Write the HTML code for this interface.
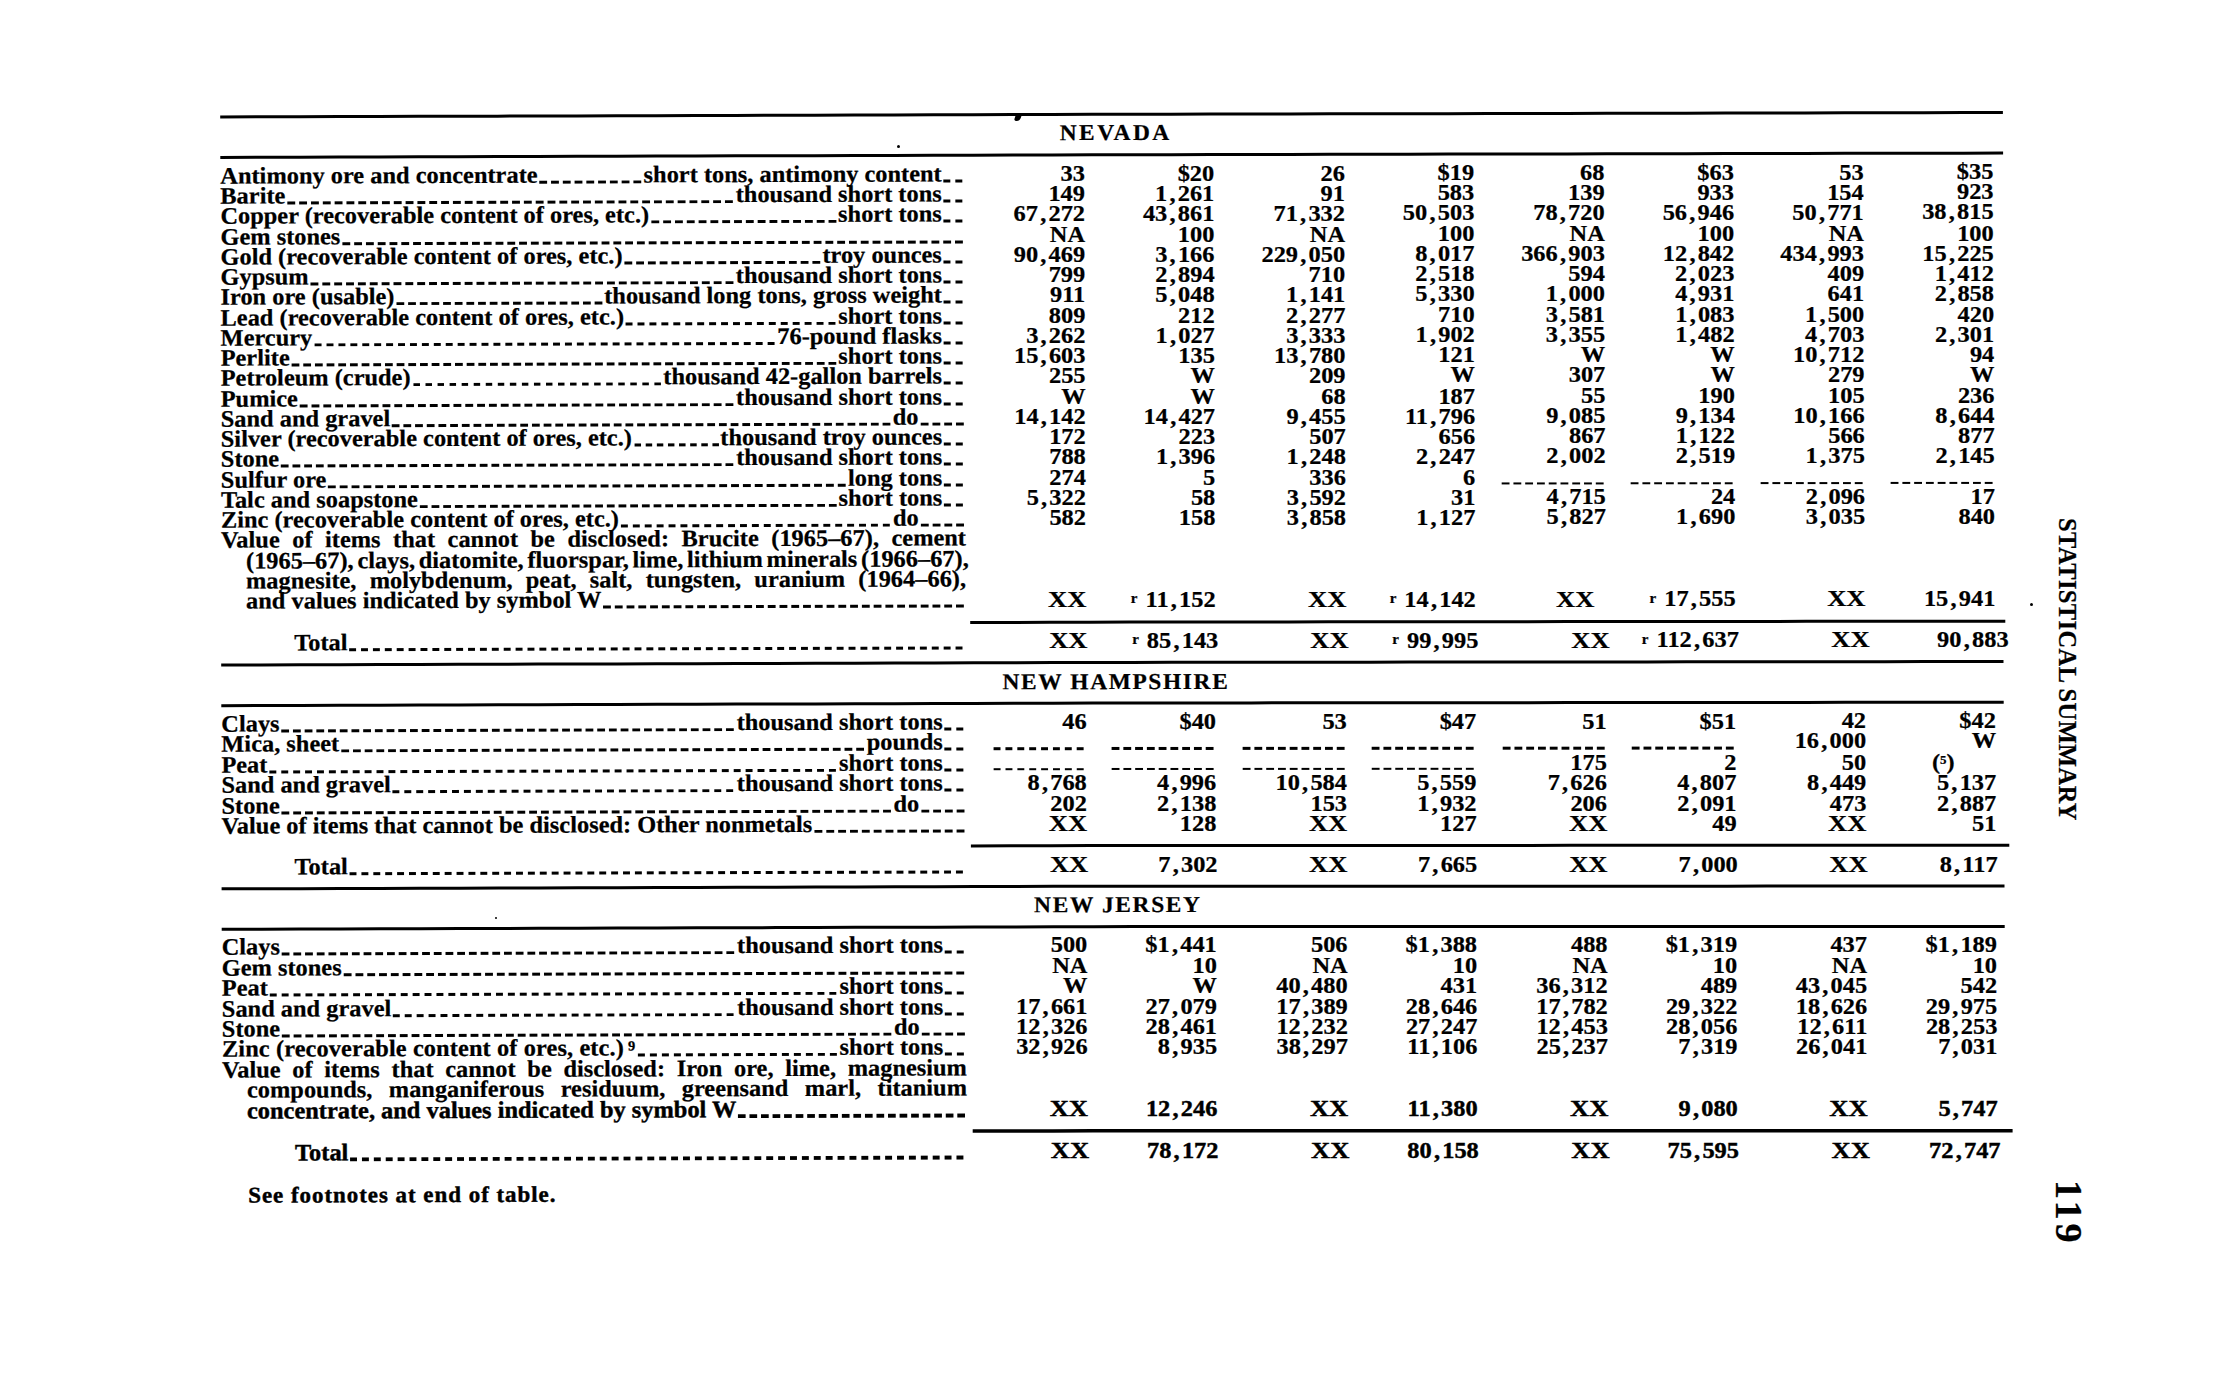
<!DOCTYPE html>
<html><head><meta charset="utf-8"><title>Statistical Summary</title>
<style>
html,body{margin:0;padding:0;background:#fff;}
body{width:2219px;height:1380px;overflow:hidden;position:relative;}
#pg{position:absolute;left:0;top:0;width:2219px;height:1380px;color:#000;
 font-family:"Liberation Serif",serif;font-weight:bold;font-size:24.4px;-webkit-text-stroke:0.25px #000;}
#rules{position:absolute;left:0;top:0;}
.r{position:absolute;background:#000;}
.t,.h,.n,.fn,.row{position:absolute;height:0;line-height:0;white-space:nowrap;transform-origin:0 8.0px;}
.h{letter-spacing:1.9px;font-size:23.4px;}
.n{width:200px;text-align:right;}
.c{margin:0 2.2px;}
.xx{display:inline-block;transform:scaleX(1.087);transform-origin:100% 0;}
.fn{font-size:23px;letter-spacing:0.95px;}
.row{display:flex;align-items:baseline;}
.lab{flex:0 0 auto;}
.ld{flex:1 1 auto;align-self:stretch;position:relative;}
.ld::after{content:"";position:absolute;left:0;right:0;top:5.8px;height:2.8px;
 background:linear-gradient(to right, transparent 0, transparent 2.4px, #000 2.4px, #000 9.4px, transparent 9.4px);background-size:11.8px 100%;background-repeat:round no-repeat;}
.heavy .ld::after{height:4px;top:4.5px;}
.heavy .lab,.hv,.fn{-webkit-text-stroke:0.45px #000;}
.cd{position:absolute;height:2.6px;background:linear-gradient(to right, transparent 0, transparent 2.4px, #000 2.4px, #000 9.4px, transparent 9.4px);background-size:11.8px 100%;background-repeat:round no-repeat;}
.sup{font-size:15px;position:relative;top:-4.5px;margin-right:8px;letter-spacing:0;}
.sup5{font-size:13px;position:relative;top:-6px;}
.sup9{font-size:14.5px;position:relative;top:-5.5px;margin-left:4px;margin-right:1px;}
.vt{position:absolute;white-space:nowrap;line-height:0;height:0;transform-origin:0 0;}
</style></head>
<body><div id="pg">
<svg id="rules" width="2219" height="1380" viewBox="0 0 2219 1380" fill="none" stroke="#000" stroke-linecap="butt" stroke-linejoin="round"><path d="M220.2 116.97 L259.8 116.85 L299.4 116.73 L339.0 116.61 L378.7 116.49 L418.3 116.37 L457.9 116.25 L497.5 116.13 L537.1 116.02 L576.7 115.90 L616.4 115.78 L656.0 115.66 L695.6 115.54 L735.2 115.42 L774.8 115.30 L814.4 115.18 L854.1 115.06 L893.7 114.95 L933.3 114.83 L972.9 114.71 L1012.5 114.59 L1052.1 114.47 L1091.8 114.35 L1131.4 114.25 L1171.0 114.18 L1210.6 114.10 L1250.2 114.02 L1289.8 113.94 L1329.5 113.86 L1369.1 113.79 L1408.7 113.71 L1448.3 113.63 L1487.9 113.55 L1527.5 113.47 L1567.2 113.39 L1606.8 113.32 L1646.4 113.24 L1686.0 113.16 L1725.6 113.08 L1765.2 113.00 L1804.9 112.92 L1844.5 112.85 L1884.1 112.77 L1923.7 112.69 L1963.3 112.61 L2002.9 112.53" stroke-width="3"/><path d="M220.3 157.42 L259.9 157.30 L299.5 157.18 L339.1 157.06 L378.7 156.94 L418.4 156.82 L458.0 156.70 L497.6 156.58 L537.2 156.47 L576.8 156.35 L616.5 156.23 L656.1 156.11 L695.7 155.99 L735.3 155.87 L774.9 155.75 L814.6 155.63 L854.2 155.51 L893.8 155.40 L933.4 155.28 L973.0 155.16 L1012.7 155.04 L1052.3 154.92 L1091.9 154.80 L1131.5 154.71 L1171.1 154.63 L1210.7 154.56 L1250.4 154.48 L1290.0 154.41 L1329.6 154.33 L1369.2 154.25 L1408.8 154.18 L1448.5 154.10 L1488.1 154.03 L1527.7 153.95 L1567.3 153.88 L1606.9 153.80 L1646.6 153.73 L1686.2 153.65 L1725.8 153.58 L1765.4 153.50 L1805.0 153.43 L1844.7 153.35 L1884.3 153.28 L1923.9 153.20 L1963.5 153.13 L2003.1 153.05" stroke-width="3"/><path d="M970.2 622.52 L1010.0 622.40 L1049.8 622.28 L1089.6 622.16 L1129.4 622.08 L1169.2 622.04 L1209.1 622.00 L1248.9 621.96 L1288.7 621.91 L1328.5 621.87 L1368.3 621.83 L1408.1 621.79 L1447.9 621.75 L1487.7 621.71 L1527.5 621.66 L1567.4 621.62 L1607.2 621.58 L1647.0 621.54 L1686.8 621.50 L1726.6 621.46 L1766.4 621.42 L1806.2 621.37 L1846.0 621.33 L1885.9 621.29 L1925.7 621.25 L1965.5 621.21 L2005.3 621.17" stroke-width="3"/><path d="M221.2 665.07 L260.8 664.95 L300.4 664.83 L340.0 664.71 L379.6 664.59 L419.2 664.47 L458.8 664.35 L498.4 664.24 L538.0 664.12 L577.6 664.00 L617.2 663.88 L656.9 663.76 L696.5 663.64 L736.1 663.52 L775.7 663.40 L815.3 663.28 L854.9 663.17 L894.5 663.05 L934.1 662.93 L973.7 662.81 L1013.3 662.69 L1052.9 662.57 L1092.5 662.45 L1132.1 662.38 L1171.7 662.34 L1211.3 662.30 L1251.0 662.26 L1290.6 662.23 L1330.2 662.19 L1369.8 662.15 L1409.4 662.11 L1449.0 662.07 L1488.6 662.03 L1528.2 662.00 L1567.8 661.96 L1607.4 661.92 L1647.0 661.88 L1686.6 661.84 L1726.2 661.80 L1765.8 661.76 L1805.4 661.73 L1845.0 661.69 L1884.7 661.65 L1924.3 661.61 L1963.9 661.57 L2003.5 661.53" stroke-width="3"/><path d="M221.3 705.67 L260.9 705.55 L300.5 705.43 L340.1 705.31 L379.7 705.19 L419.3 705.07 L458.9 704.95 L498.5 704.84 L538.1 704.72 L577.7 704.60 L617.3 704.48 L657.0 704.36 L696.6 704.24 L736.2 704.12 L775.8 704.00 L815.4 703.88 L855.0 703.77 L894.6 703.65 L934.2 703.53 L973.8 703.41 L1013.4 703.29 L1053.0 703.17 L1092.7 703.05 L1132.3 702.98 L1171.9 702.95 L1211.5 702.91 L1251.1 702.88 L1290.7 702.84 L1330.3 702.80 L1369.9 702.77 L1409.5 702.73 L1449.1 702.70 L1488.7 702.66 L1528.4 702.63 L1568.0 702.59 L1607.6 702.56 L1647.2 702.52 L1686.8 702.49 L1726.4 702.45 L1766.0 702.42 L1805.6 702.38 L1845.2 702.35 L1884.8 702.31 L1924.4 702.28 L1964.1 702.24 L2003.7 702.21" stroke-width="3"/><path d="M970.9 845.92 L1010.8 845.80 L1050.7 845.68 L1090.7 845.56 L1130.6 845.49 L1170.6 845.48 L1210.5 845.47 L1250.4 845.46 L1290.4 845.45 L1330.3 845.44 L1370.3 845.43 L1410.2 845.41 L1450.1 845.40 L1490.1 845.39 L1530.0 845.38 L1570.0 845.37 L1609.9 845.36 L1649.8 845.35 L1689.8 845.33 L1729.7 845.32 L1769.7 845.31 L1809.6 845.30 L1849.6 845.29 L1889.5 845.28 L1929.4 845.26 L1969.4 845.25 L2009.3 845.24" stroke-width="3"/><path d="M221.6 888.87 L261.2 888.75 L300.8 888.63 L340.4 888.51 L380.1 888.39 L419.7 888.27 L459.3 888.15 L498.9 888.04 L538.6 887.92 L578.2 887.80 L617.8 887.68 L657.4 887.56 L697.0 887.44 L736.7 887.32 L776.3 887.20 L815.9 887.09 L855.5 886.97 L895.1 886.85 L934.8 886.73 L974.4 886.61 L1014.0 886.49 L1053.6 886.37 L1093.2 886.25 L1132.9 886.20 L1172.5 886.19 L1212.1 886.19 L1251.7 886.18 L1291.3 886.18 L1331.0 886.17 L1370.6 886.17 L1410.2 886.17 L1449.8 886.16 L1489.4 886.16 L1529.1 886.15 L1568.7 886.15 L1608.3 886.14 L1647.9 886.14 L1687.5 886.13 L1727.2 886.13 L1766.8 886.12 L1806.4 886.12 L1846.0 886.11 L1885.6 886.11 L1925.3 886.11 L1964.9 886.10 L2004.5 886.10" stroke-width="3"/><path d="M221.7 929.27 L261.3 929.15 L300.9 929.03 L340.5 928.91 L380.2 928.79 L419.8 928.67 L459.4 928.55 L499.0 928.44 L538.6 928.32 L578.3 928.20 L617.9 928.08 L657.5 927.96 L697.1 927.84 L736.8 927.72 L776.4 927.60 L816.0 927.49 L855.6 927.37 L895.2 927.25 L934.9 927.13 L974.5 927.01 L1014.1 926.89 L1053.7 926.77 L1093.4 926.65 L1133.0 926.60 L1172.6 926.59 L1212.2 926.59 L1251.9 926.59 L1291.5 926.58 L1331.1 926.58 L1370.7 926.58 L1410.3 926.57 L1450.0 926.57 L1489.6 926.57 L1529.2 926.56 L1568.8 926.56 L1608.5 926.55 L1648.1 926.55 L1687.7 926.55 L1727.3 926.54 L1767.0 926.54 L1806.6 926.54 L1846.2 926.53 L1885.8 926.53 L1925.4 926.53 L1965.1 926.52 L2004.7 926.52" stroke-width="3"/><path d="M972.7 1131.12 L1012.7 1131.00 L1052.7 1130.88 L1092.7 1130.76 L1132.7 1130.70 L1172.7 1130.70 L1212.7 1130.70 L1252.7 1130.69 L1292.7 1130.69 L1332.7 1130.69 L1372.7 1130.69 L1412.7 1130.69 L1452.7 1130.69 L1492.7 1130.68 L1532.7 1130.68 L1572.7 1130.68 L1612.7 1130.68 L1652.7 1130.68 L1692.7 1130.68 L1732.7 1130.67 L1772.7 1130.67 L1812.7 1130.67 L1852.6 1130.67 L1892.6 1130.67 L1932.6 1130.67 L1972.6 1130.66 L2012.6 1130.66" stroke-width="3.5"/></svg>
<div class="h" style="left:1061.0px;top:132.20px;letter-spacing:2.5px;transform:translate(-1.31px,0.15px) rotate(-0.1383deg) scaleY(0.97);">NEVADA</div>
<div class="row" style="left:221.0px;top:172.92px;width:745.0px;transform:translate(-0.68px,2.67px) rotate(-0.1719deg) scaleY(0.97);"><span class="lab" style="padding-left:0px;letter-spacing:0px">Antimony ore and concentrate</span><span class="ld"></span><span class="lab">short tons, antimony content</span><span class="ld" style="flex:0 0 23.6px"></span></div>
<div class="n" style="left:886.1px;top:172.92px;transform:translate(-1.18px,0.16px) scaleY(0.94)">33</div>
<div class="n" style="left:1015.5px;top:172.92px;transform:translate(-1.26px,-0.14px) scaleY(0.94)">$20</div>
<div class="n" style="left:1146.2px;top:172.92px;transform:translate(-1.34px,-0.38px) scaleY(0.94)">26</div>
<div class="n" style="left:1275.6px;top:172.92px;transform:translate(-1.42px,-0.62px) scaleY(0.94)">$19</div>
<div class="n" style="left:1406.0px;top:172.92px;transform:translate(-1.49px,-0.86px) scaleY(0.94)">68</div>
<div class="n" style="left:1535.5px;top:172.92px;transform:translate(-1.57px,-1.10px) scaleY(0.94)">$63</div>
<div class="n" style="left:1665.3px;top:172.92px;transform:translate(-1.65px,-1.34px) scaleY(0.94)">53</div>
<div class="n" style="left:1795.2px;top:172.92px;transform:translate(-1.73px,-1.58px) scaleY(0.94)">$35</div>
<div class="row" style="left:221.0px;top:193.17px;width:745.0px;transform:translate(-0.65px,2.67px) rotate(-0.1719deg) scaleY(0.97);"><span class="lab" style="padding-left:0px;letter-spacing:0px">Barite</span><span class="ld"></span><span class="lab">thousand short tons</span><span class="ld" style="flex:0 0 23.6px"></span></div>
<div class="n" style="left:886.1px;top:193.17px;transform:translate(-1.12px,0.16px) scaleY(0.94)">149</div>
<div class="n" style="left:1015.5px;top:193.17px;transform:translate(-1.19px,-0.14px) scaleY(0.94)">1<span class="c">,</span>261</div>
<div class="n" style="left:1146.2px;top:193.17px;transform:translate(-1.27px,-0.37px) scaleY(0.94)">91</div>
<div class="n" style="left:1275.6px;top:193.17px;transform:translate(-1.34px,-0.61px) scaleY(0.94)">583</div>
<div class="n" style="left:1406.0px;top:193.17px;transform:translate(-1.41px,-0.85px) scaleY(0.94)">139</div>
<div class="n" style="left:1535.5px;top:193.17px;transform:translate(-1.49px,-1.08px) scaleY(0.94)">933</div>
<div class="n" style="left:1665.3px;top:193.17px;transform:translate(-1.56px,-1.32px) scaleY(0.94)">154</div>
<div class="n" style="left:1795.2px;top:193.17px;transform:translate(-1.63px,-1.55px) scaleY(0.94)">923</div>
<div class="row" style="left:221.0px;top:213.42px;width:745.0px;transform:translate(-0.61px,2.67px) rotate(-0.1719deg) scaleY(0.97);"><span class="lab" style="padding-left:0px;letter-spacing:0px">Copper (recoverable content of ores, etc.)</span><span class="ld"></span><span class="lab">short tons</span><span class="ld" style="flex:0 0 23.6px"></span></div>
<div class="n" style="left:886.1px;top:213.42px;transform:translate(-1.06px,0.16px) scaleY(0.94)">67<span class="c">,</span>272</div>
<div class="n" style="left:1015.5px;top:213.42px;transform:translate(-1.12px,-0.13px) scaleY(0.94)">43<span class="c">,</span>861</div>
<div class="n" style="left:1146.2px;top:213.42px;transform:translate(-1.19px,-0.37px) scaleY(0.94)">71<span class="c">,</span>332</div>
<div class="n" style="left:1275.6px;top:213.42px;transform:translate(-1.26px,-0.60px) scaleY(0.94)">50<span class="c">,</span>503</div>
<div class="n" style="left:1406.0px;top:213.42px;transform:translate(-1.33px,-0.83px) scaleY(0.94)">78<span class="c">,</span>720</div>
<div class="n" style="left:1535.5px;top:213.42px;transform:translate(-1.40px,-1.06px) scaleY(0.94)">56<span class="c">,</span>946</div>
<div class="n" style="left:1665.3px;top:213.42px;transform:translate(-1.47px,-1.29px) scaleY(0.94)">50<span class="c">,</span>771</div>
<div class="n" style="left:1795.2px;top:213.42px;transform:translate(-1.54px,-1.52px) scaleY(0.94)">38<span class="c">,</span>815</div>
<div class="row" style="left:221.0px;top:233.67px;width:745.0px;transform:translate(-0.57px,2.67px) rotate(-0.1719deg) scaleY(0.97);"><span class="lab" style="padding-left:0px">Gem stones</span><span class="ld"></span></div>
<div class="n" style="left:886.1px;top:233.67px;transform:translate(-0.99px,0.16px) scaleY(0.97)">NA</div>
<div class="n" style="left:1015.5px;top:233.67px;transform:translate(-1.06px,-0.13px) scaleY(0.94)">100</div>
<div class="n" style="left:1146.2px;top:233.67px;transform:translate(-1.12px,-0.36px) scaleY(0.97)">NA</div>
<div class="n" style="left:1275.6px;top:233.67px;transform:translate(-1.19px,-0.58px) scaleY(0.94)">100</div>
<div class="n" style="left:1406.0px;top:233.67px;transform:translate(-1.25px,-0.81px) scaleY(0.97)">NA</div>
<div class="n" style="left:1535.5px;top:233.67px;transform:translate(-1.32px,-1.04px) scaleY(0.94)">100</div>
<div class="n" style="left:1665.3px;top:233.67px;transform:translate(-1.38px,-1.26px) scaleY(0.97)">NA</div>
<div class="n" style="left:1795.2px;top:233.67px;transform:translate(-1.45px,-1.49px) scaleY(0.94)">100</div>
<div class="row" style="left:221.0px;top:253.92px;width:745.0px;transform:translate(-0.54px,2.67px) rotate(-0.1719deg) scaleY(0.97);"><span class="lab" style="padding-left:0px;letter-spacing:0px">Gold (recoverable content of ores, etc.)</span><span class="ld"></span><span class="lab">troy ounces</span><span class="ld" style="flex:0 0 23.6px"></span></div>
<div class="n" style="left:886.1px;top:253.92px;transform:translate(-0.93px,0.16px) scaleY(0.94)">90<span class="c">,</span>469</div>
<div class="n" style="left:1015.5px;top:253.92px;transform:translate(-0.99px,-0.13px) scaleY(0.94)">3<span class="c">,</span>166</div>
<div class="n" style="left:1146.2px;top:253.92px;transform:translate(-1.05px,-0.35px) scaleY(0.94)">229<span class="c">,</span>050</div>
<div class="n" style="left:1275.6px;top:253.92px;transform:translate(-1.11px,-0.57px) scaleY(0.94)">8<span class="c">,</span>017</div>
<div class="n" style="left:1406.0px;top:253.92px;transform:translate(-1.17px,-0.79px) scaleY(0.94)">366<span class="c">,</span>903</div>
<div class="n" style="left:1535.5px;top:253.92px;transform:translate(-1.23px,-1.01px) scaleY(0.94)">12<span class="c">,</span>842</div>
<div class="n" style="left:1665.3px;top:253.92px;transform:translate(-1.30px,-1.24px) scaleY(0.94)">434<span class="c">,</span>993</div>
<div class="n" style="left:1795.2px;top:253.92px;transform:translate(-1.36px,-1.46px) scaleY(0.94)">15<span class="c">,</span>225</div>
<div class="row" style="left:221.0px;top:274.17px;width:745.0px;transform:translate(-0.50px,2.67px) rotate(-0.1719deg) scaleY(0.97);"><span class="lab" style="padding-left:0px;letter-spacing:0px">Gypsum</span><span class="ld"></span><span class="lab">thousand short tons</span><span class="ld" style="flex:0 0 23.6px"></span></div>
<div class="n" style="left:886.1px;top:274.17px;transform:translate(-0.87px,0.16px) scaleY(0.94)">799</div>
<div class="n" style="left:1015.5px;top:274.17px;transform:translate(-0.92px,-0.13px) scaleY(0.94)">2<span class="c">,</span>894</div>
<div class="n" style="left:1146.2px;top:274.17px;transform:translate(-0.98px,-0.34px) scaleY(0.94)">710</div>
<div class="n" style="left:1275.6px;top:274.17px;transform:translate(-1.04px,-0.56px) scaleY(0.94)">2<span class="c">,</span>518</div>
<div class="n" style="left:1406.0px;top:274.17px;transform:translate(-1.09px,-0.78px) scaleY(0.94)">594</div>
<div class="n" style="left:1535.5px;top:274.17px;transform:translate(-1.15px,-0.99px) scaleY(0.94)">2<span class="c">,</span>023</div>
<div class="n" style="left:1665.3px;top:274.17px;transform:translate(-1.21px,-1.21px) scaleY(0.94)">409</div>
<div class="n" style="left:1795.2px;top:274.17px;transform:translate(-1.26px,-1.42px) scaleY(0.94)">1<span class="c">,</span>412</div>
<div class="row" style="left:221.0px;top:294.42px;width:745.0px;transform:translate(-0.46px,2.67px) rotate(-0.1719deg) scaleY(0.97);"><span class="lab" style="padding-left:0px;letter-spacing:0px">Iron ore (usable)</span><span class="ld"></span><span class="lab">thousand long tons, gross weight</span><span class="ld" style="flex:0 0 23.6px"></span></div>
<div class="n" style="left:886.1px;top:294.42px;transform:translate(-0.80px,0.16px) scaleY(0.94)">911</div>
<div class="n" style="left:1015.5px;top:294.42px;transform:translate(-0.86px,-0.12px) scaleY(0.94)">5<span class="c">,</span>048</div>
<div class="n" style="left:1146.2px;top:294.42px;transform:translate(-0.91px,-0.34px) scaleY(0.94)">1<span class="c">,</span>141</div>
<div class="n" style="left:1275.6px;top:294.42px;transform:translate(-0.96px,-0.55px) scaleY(0.94)">5<span class="c">,</span>330</div>
<div class="n" style="left:1406.0px;top:294.42px;transform:translate(-1.01px,-0.76px) scaleY(0.94)">1<span class="c">,</span>000</div>
<div class="n" style="left:1535.5px;top:294.42px;transform:translate(-1.07px,-0.97px) scaleY(0.94)">4<span class="c">,</span>931</div>
<div class="n" style="left:1665.3px;top:294.42px;transform:translate(-1.12px,-1.18px) scaleY(0.94)">641</div>
<div class="n" style="left:1795.2px;top:294.42px;transform:translate(-1.17px,-1.39px) scaleY(0.94)">2<span class="c">,</span>858</div>
<div class="row" style="left:221.0px;top:314.67px;width:745.0px;transform:translate(-0.43px,2.67px) rotate(-0.1719deg) scaleY(0.97);"><span class="lab" style="padding-left:0px;letter-spacing:0px">Lead (recoverable content of ores, etc.)</span><span class="ld"></span><span class="lab">short tons</span><span class="ld" style="flex:0 0 23.6px"></span></div>
<div class="n" style="left:886.1px;top:314.67px;transform:translate(-0.74px,0.16px) scaleY(0.94)">809</div>
<div class="n" style="left:1015.5px;top:314.67px;transform:translate(-0.79px,-0.12px) scaleY(0.94)">212</div>
<div class="n" style="left:1146.2px;top:314.67px;transform:translate(-0.84px,-0.33px) scaleY(0.94)">2<span class="c">,</span>277</div>
<div class="n" style="left:1275.6px;top:314.67px;transform:translate(-0.89px,-0.53px) scaleY(0.94)">710</div>
<div class="n" style="left:1406.0px;top:314.67px;transform:translate(-0.93px,-0.74px) scaleY(0.94)">3<span class="c">,</span>581</div>
<div class="n" style="left:1535.5px;top:314.67px;transform:translate(-0.98px,-0.95px) scaleY(0.94)">1<span class="c">,</span>083</div>
<div class="n" style="left:1665.3px;top:314.67px;transform:translate(-1.03px,-1.15px) scaleY(0.94)">1<span class="c">,</span>500</div>
<div class="n" style="left:1795.2px;top:314.67px;transform:translate(-1.08px,-1.36px) scaleY(0.94)">420</div>
<div class="row" style="left:221.0px;top:334.92px;width:745.0px;transform:translate(-0.39px,2.67px) rotate(-0.1719deg) scaleY(0.97);"><span class="lab" style="padding-left:0px;letter-spacing:0px">Mercury</span><span class="ld"></span><span class="lab">76-pound flasks</span><span class="ld" style="flex:0 0 23.6px"></span></div>
<div class="n" style="left:886.1px;top:334.92px;transform:translate(-0.68px,0.16px) scaleY(0.94)">3<span class="c">,</span>262</div>
<div class="n" style="left:1015.5px;top:334.92px;transform:translate(-0.72px,-0.12px) scaleY(0.94)">1<span class="c">,</span>027</div>
<div class="n" style="left:1146.2px;top:334.92px;transform:translate(-0.77px,-0.32px) scaleY(0.94)">3<span class="c">,</span>333</div>
<div class="n" style="left:1275.6px;top:334.92px;transform:translate(-0.81px,-0.52px) scaleY(0.94)">1<span class="c">,</span>902</div>
<div class="n" style="left:1406.0px;top:334.92px;transform:translate(-0.85px,-0.72px) scaleY(0.94)">3<span class="c">,</span>355</div>
<div class="n" style="left:1535.5px;top:334.92px;transform:translate(-0.90px,-0.93px) scaleY(0.94)">1<span class="c">,</span>482</div>
<div class="n" style="left:1665.3px;top:334.92px;transform:translate(-0.94px,-1.13px) scaleY(0.94)">4<span class="c">,</span>703</div>
<div class="n" style="left:1795.2px;top:334.92px;transform:translate(-0.99px,-1.33px) scaleY(0.94)">2<span class="c">,</span>301</div>
<div class="row" style="left:221.0px;top:355.17px;width:745.0px;transform:translate(-0.35px,2.67px) rotate(-0.1719deg) scaleY(0.97);"><span class="lab" style="padding-left:0px;letter-spacing:0px">Perlite</span><span class="ld"></span><span class="lab">short tons</span><span class="ld" style="flex:0 0 23.6px"></span></div>
<div class="n" style="left:886.1px;top:355.17px;transform:translate(-0.61px,0.16px) scaleY(0.94)">15<span class="c">,</span>603</div>
<div class="n" style="left:1015.5px;top:355.17px;transform:translate(-0.65px,-0.11px) scaleY(0.94)">135</div>
<div class="n" style="left:1146.2px;top:355.17px;transform:translate(-0.69px,-0.31px) scaleY(0.94)">13<span class="c">,</span>780</div>
<div class="n" style="left:1275.6px;top:355.17px;transform:translate(-0.73px,-0.51px) scaleY(0.94)">121</div>
<div class="n" style="left:1406.0px;top:355.17px;transform:translate(-0.78px,-0.71px) scaleY(0.97)">W</div>
<div class="n" style="left:1535.5px;top:355.17px;transform:translate(-0.82px,-0.90px) scaleY(0.97)">W</div>
<div class="n" style="left:1665.3px;top:355.17px;transform:translate(-0.86px,-1.10px) scaleY(0.94)">10<span class="c">,</span>712</div>
<div class="n" style="left:1795.2px;top:355.17px;transform:translate(-0.90px,-1.30px) scaleY(0.94)">94</div>
<div class="row" style="left:221.0px;top:375.42px;width:745.0px;transform:translate(-0.32px,2.67px) rotate(-0.1719deg) scaleY(0.97);"><span class="lab" style="padding-left:0px;letter-spacing:0px">Petroleum (crude)</span><span class="ld"></span><span class="lab">thousand 42-gallon barrels</span><span class="ld" style="flex:0 0 23.6px"></span></div>
<div class="n" style="left:886.1px;top:375.42px;transform:translate(-0.55px,0.16px) scaleY(0.94)">255</div>
<div class="n" style="left:1015.5px;top:375.42px;transform:translate(-0.59px,-0.11px) scaleY(0.97)">W</div>
<div class="n" style="left:1146.2px;top:375.42px;transform:translate(-0.62px,-0.31px) scaleY(0.94)">209</div>
<div class="n" style="left:1275.6px;top:375.42px;transform:translate(-0.66px,-0.50px) scaleY(0.97)">W</div>
<div class="n" style="left:1406.0px;top:375.42px;transform:translate(-0.70px,-0.69px) scaleY(0.94)">307</div>
<div class="n" style="left:1535.5px;top:375.42px;transform:translate(-0.73px,-0.88px) scaleY(0.97)">W</div>
<div class="n" style="left:1665.3px;top:375.42px;transform:translate(-0.77px,-1.07px) scaleY(0.94)">279</div>
<div class="n" style="left:1795.2px;top:375.42px;transform:translate(-0.80px,-1.27px) scaleY(0.97)">W</div>
<div class="row" style="left:221.0px;top:395.67px;width:745.0px;transform:translate(-0.28px,2.67px) rotate(-0.1719deg) scaleY(0.97);"><span class="lab" style="padding-left:0px;letter-spacing:0px">Pumice</span><span class="ld"></span><span class="lab">thousand short tons</span><span class="ld" style="flex:0 0 23.6px"></span></div>
<div class="n" style="left:886.1px;top:395.67px;transform:translate(-0.49px,0.16px) scaleY(0.97)">W</div>
<div class="n" style="left:1015.5px;top:395.67px;transform:translate(-0.52px,-0.11px) scaleY(0.97)">W</div>
<div class="n" style="left:1146.2px;top:395.67px;transform:translate(-0.55px,-0.30px) scaleY(0.94)">68</div>
<div class="n" style="left:1275.6px;top:395.67px;transform:translate(-0.58px,-0.48px) scaleY(0.94)">187</div>
<div class="n" style="left:1406.0px;top:395.67px;transform:translate(-0.62px,-0.67px) scaleY(0.94)">55</div>
<div class="n" style="left:1535.5px;top:395.67px;transform:translate(-0.65px,-0.86px) scaleY(0.94)">190</div>
<div class="n" style="left:1665.3px;top:395.67px;transform:translate(-0.68px,-1.05px) scaleY(0.94)">105</div>
<div class="n" style="left:1795.2px;top:395.67px;transform:translate(-0.71px,-1.23px) scaleY(0.94)">236</div>
<div class="row" style="left:221.0px;top:415.92px;width:745.0px;transform:translate(-0.24px,2.67px) rotate(-0.1719deg) scaleY(0.97);"><span class="lab" style="padding-left:0px;letter-spacing:0px">Sand and gravel</span><span class="ld"></span><span class="lab">do</span><span class="ld" style="flex:0 0 47.2px"></span></div>
<div class="n" style="left:886.1px;top:415.92px;transform:translate(-0.42px,0.16px) scaleY(0.94)">14<span class="c">,</span>142</div>
<div class="n" style="left:1015.5px;top:415.92px;transform:translate(-0.45px,-0.11px) scaleY(0.94)">14<span class="c">,</span>427</div>
<div class="n" style="left:1146.2px;top:415.92px;transform:translate(-0.48px,-0.29px) scaleY(0.94)">9<span class="c">,</span>455</div>
<div class="n" style="left:1275.6px;top:415.92px;transform:translate(-0.51px,-0.47px) scaleY(0.94)">11<span class="c">,</span>796</div>
<div class="n" style="left:1406.0px;top:415.92px;transform:translate(-0.54px,-0.66px) scaleY(0.94)">9<span class="c">,</span>085</div>
<div class="n" style="left:1535.5px;top:415.92px;transform:translate(-0.56px,-0.84px) scaleY(0.94)">9<span class="c">,</span>134</div>
<div class="n" style="left:1665.3px;top:415.92px;transform:translate(-0.59px,-1.02px) scaleY(0.94)">10<span class="c">,</span>166</div>
<div class="n" style="left:1795.2px;top:415.92px;transform:translate(-0.62px,-1.20px) scaleY(0.94)">8<span class="c">,</span>644</div>
<div class="row" style="left:221.0px;top:436.17px;width:745.0px;transform:translate(-0.21px,2.67px) rotate(-0.1719deg) scaleY(0.97);"><span class="lab" style="padding-left:0px;letter-spacing:0px">Silver (recoverable content of ores, etc.)</span><span class="ld"></span><span class="lab">thousand troy ounces</span><span class="ld" style="flex:0 0 23.6px"></span></div>
<div class="n" style="left:886.1px;top:436.17px;transform:translate(-0.36px,0.16px) scaleY(0.94)">172</div>
<div class="n" style="left:1015.5px;top:436.17px;transform:translate(-0.38px,-0.10px) scaleY(0.94)">223</div>
<div class="n" style="left:1146.2px;top:436.17px;transform:translate(-0.41px,-0.28px) scaleY(0.94)">507</div>
<div class="n" style="left:1275.6px;top:436.17px;transform:translate(-0.43px,-0.46px) scaleY(0.94)">656</div>
<div class="n" style="left:1406.0px;top:436.17px;transform:translate(-0.46px,-0.64px) scaleY(0.94)">867</div>
<div class="n" style="left:1535.5px;top:436.17px;transform:translate(-0.48px,-0.82px) scaleY(0.94)">1<span class="c">,</span>122</div>
<div class="n" style="left:1665.3px;top:436.17px;transform:translate(-0.50px,-0.99px) scaleY(0.94)">566</div>
<div class="n" style="left:1795.2px;top:436.17px;transform:translate(-0.53px,-1.17px) scaleY(0.94)">877</div>
<div class="row" style="left:221.0px;top:456.42px;width:745.0px;transform:translate(-0.17px,2.67px) rotate(-0.1719deg) scaleY(0.97);"><span class="lab" style="padding-left:0px;letter-spacing:0px">Stone</span><span class="ld"></span><span class="lab">thousand short tons</span><span class="ld" style="flex:0 0 23.6px"></span></div>
<div class="n" style="left:886.1px;top:456.42px;transform:translate(-0.30px,0.16px) scaleY(0.94)">788</div>
<div class="n" style="left:1015.5px;top:456.42px;transform:translate(-0.32px,-0.10px) scaleY(0.94)">1<span class="c">,</span>396</div>
<div class="n" style="left:1146.2px;top:456.42px;transform:translate(-0.34px,-0.27px) scaleY(0.94)">1<span class="c">,</span>248</div>
<div class="n" style="left:1275.6px;top:456.42px;transform:translate(-0.36px,-0.45px) scaleY(0.94)">2<span class="c">,</span>247</div>
<div class="n" style="left:1406.0px;top:456.42px;transform:translate(-0.38px,-0.62px) scaleY(0.94)">2<span class="c">,</span>002</div>
<div class="n" style="left:1535.5px;top:456.42px;transform:translate(-0.40px,-0.79px) scaleY(0.94)">2<span class="c">,</span>519</div>
<div class="n" style="left:1665.3px;top:456.42px;transform:translate(-0.42px,-0.97px) scaleY(0.94)">1<span class="c">,</span>375</div>
<div class="n" style="left:1795.2px;top:456.42px;transform:translate(-0.44px,-1.14px) scaleY(0.94)">2<span class="c">,</span>145</div>
<div class="row" style="left:221.0px;top:476.67px;width:745.0px;transform:translate(-0.14px,2.67px) rotate(-0.1719deg) scaleY(0.97);"><span class="lab" style="padding-left:0px;letter-spacing:0px">Sulfur ore</span><span class="ld"></span><span class="lab">long tons</span><span class="ld" style="flex:0 0 23.6px"></span></div>
<div class="n" style="left:886.1px;top:476.67px;transform:translate(-0.23px,0.16px) scaleY(0.94)">274</div>
<div class="n" style="left:1015.5px;top:476.67px;transform:translate(-0.25px,-0.10px) scaleY(0.94)">5</div>
<div class="n" style="left:1146.2px;top:476.67px;transform:translate(-0.27px,-0.27px) scaleY(0.94)">336</div>
<div class="n" style="left:1275.6px;top:476.67px;transform:translate(-0.28px,-0.43px) scaleY(0.94)">6</div>
<div class="cd" style="left:1499.5px;top:482.67px;width:106.2px;transform:translate(-0.29px,-0.57px)"></div>
<div class="cd" style="left:1629.0px;top:482.67px;width:106.2px;transform:translate(-0.31px,-0.74px)"></div>
<div class="cd" style="left:1758.8px;top:482.67px;width:106.2px;transform:translate(-0.32px,-0.91px)"></div>
<div class="cd" style="left:1888.8px;top:482.67px;width:106.2px;transform:translate(-0.34px,-1.08px)"></div>
<div class="row" style="left:221.0px;top:496.92px;width:745.0px;transform:translate(-0.10px,2.67px) rotate(-0.1719deg) scaleY(0.97);"><span class="lab" style="padding-left:0px;letter-spacing:0px">Talc and soapstone</span><span class="ld"></span><span class="lab">short tons</span><span class="ld" style="flex:0 0 23.6px"></span></div>
<div class="n" style="left:886.1px;top:496.92px;transform:translate(-0.17px,0.16px) scaleY(0.94)">5<span class="c">,</span>322</div>
<div class="n" style="left:1015.5px;top:496.92px;transform:translate(-0.18px,-0.10px) scaleY(0.94)">58</div>
<div class="n" style="left:1146.2px;top:496.92px;transform:translate(-0.19px,-0.26px) scaleY(0.94)">3<span class="c">,</span>592</div>
<div class="n" style="left:1275.6px;top:496.92px;transform:translate(-0.21px,-0.42px) scaleY(0.94)">31</div>
<div class="n" style="left:1406.0px;top:496.92px;transform:translate(-0.22px,-0.59px) scaleY(0.94)">4<span class="c">,</span>715</div>
<div class="n" style="left:1535.5px;top:496.92px;transform:translate(-0.23px,-0.75px) scaleY(0.94)">24</div>
<div class="n" style="left:1665.3px;top:496.92px;transform:translate(-0.24px,-0.91px) scaleY(0.94)">2<span class="c">,</span>096</div>
<div class="n" style="left:1795.2px;top:496.92px;transform:translate(-0.25px,-1.08px) scaleY(0.94)">17</div>
<div class="row" style="left:221.0px;top:517.17px;width:745.0px;transform:translate(-0.06px,2.67px) rotate(-0.1719deg) scaleY(0.97);"><span class="lab" style="padding-left:0px;letter-spacing:0px">Zinc (recoverable content of ores, etc.)</span><span class="ld"></span><span class="lab">do</span><span class="ld" style="flex:0 0 47.2px"></span></div>
<div class="n" style="left:886.1px;top:517.17px;transform:translate(-0.11px,0.16px) scaleY(0.94)">582</div>
<div class="n" style="left:1015.5px;top:517.17px;transform:translate(-0.12px,-0.09px) scaleY(0.94)">158</div>
<div class="n" style="left:1146.2px;top:517.17px;transform:translate(-0.12px,-0.25px) scaleY(0.94)">3<span class="c">,</span>858</div>
<div class="n" style="left:1275.6px;top:517.17px;transform:translate(-0.13px,-0.41px) scaleY(0.94)">1<span class="c">,</span>127</div>
<div class="n" style="left:1406.0px;top:517.17px;transform:translate(-0.14px,-0.57px) scaleY(0.94)">5<span class="c">,</span>827</div>
<div class="n" style="left:1535.5px;top:517.17px;transform:translate(-0.14px,-0.73px) scaleY(0.94)">1<span class="c">,</span>690</div>
<div class="n" style="left:1665.3px;top:517.17px;transform:translate(-0.15px,-0.89px) scaleY(0.94)">3<span class="c">,</span>035</div>
<div class="n" style="left:1795.2px;top:517.17px;transform:translate(-0.16px,-1.04px) scaleY(0.94)">840</div>
<div class="t" style="left:221.0px;top:537.42px;width:745.0px;text-align:justify;text-align-last:justify;transform:translate(-0.03px,2.67px) rotate(-0.1719deg) scaleY(0.97);">Value of items that cannot be disclosed: Brucite (1965–67), cement</div>
<div class="t" style="left:246.0px;top:557.67px;width:720.0px;text-align:justify;text-align-last:justify;word-spacing:-2.4px;transform:translate(0.01px,2.59px) rotate(-0.1719deg) scaleY(0.97);">(1965–67), clays, diatomite, fluorspar, lime, lithium minerals (1966–67),</div>
<div class="t" style="left:246.0px;top:577.92px;width:720.0px;text-align:justify;text-align-last:justify;transform:translate(0.05px,2.59px) rotate(-0.1719deg) scaleY(0.97);">magnesite, molybdenum, peat, salt, tungsten, uranium (1964–66),</div>
<div class="row" style="left:221.0px;top:598.17px;width:745.0px;transform:translate(0.08px,2.67px) rotate(-0.1719deg) scaleY(0.97);"><span class="lab" style="padding-left:25px">and values indicated by symbol W</span><span class="ld"></span></div>
<div class="n" style="left:886.1px;top:599.17px;transform:translate(0.15px,0.16px) scaleY(0.97)"><span class="xx">XX</span></div>
<div class="n" style="left:1015.5px;top:599.17px;transform:translate(0.16px,-0.08px) scaleY(0.94)"><span class="sup">r</span>11<span class="c">,</span>152</div>
<div class="n" style="left:1146.2px;top:599.17px;transform:translate(0.17px,-0.22px) scaleY(0.97)"><span class="xx">XX</span></div>
<div class="n" style="left:1275.6px;top:599.17px;transform:translate(0.18px,-0.36px) scaleY(0.94)"><span class="sup">r</span>14<span class="c">,</span>142</div>
<div class="n" style="left:1394.0px;top:599.17px;transform:translate(0.18px,-0.49px) scaleY(0.97)"><span class="xx">XX</span></div>
<div class="n" style="left:1535.5px;top:599.17px;transform:translate(0.20px,-0.64px) scaleY(0.94)"><span class="sup">r</span>17<span class="c">,</span>555</div>
<div class="n" style="left:1665.3px;top:599.17px;transform:translate(0.21px,-0.78px) scaleY(0.97)"><span class="xx">XX</span></div>
<div class="n" style="left:1795.2px;top:599.17px;transform:translate(0.21px,-0.92px) scaleY(0.94)">15<span class="c">,</span>941</div>
<div class="row" style="left:221.0px;top:640.20px;width:745.0px;transform:translate(0.16px,2.67px) rotate(-0.1719deg) scaleY(0.97);"><span class="lab" style="padding-left:73px">Total</span><span class="ld"></span></div>
<div class="n" style="left:887.6px;top:640.20px;transform:translate(0.28px,0.16px) scaleY(0.97)"><span class="xx">XX</span></div>
<div class="n" style="left:1018.0px;top:640.20px;transform:translate(0.29px,-0.08px) scaleY(0.94)"><span class="sup">r</span>85<span class="c">,</span>143</div>
<div class="n" style="left:1148.7px;top:640.20px;transform:translate(0.31px,-0.21px) scaleY(0.97)"><span class="xx">XX</span></div>
<div class="n" style="left:1278.1px;top:640.20px;transform:translate(0.33px,-0.34px) scaleY(0.94)"><span class="sup">r</span>99<span class="c">,</span>995</div>
<div class="n" style="left:1409.0px;top:640.20px;transform:translate(0.35px,-0.47px) scaleY(0.97)"><span class="xx">XX</span></div>
<div class="n" style="left:1538.5px;top:640.20px;transform:translate(0.37px,-0.60px) scaleY(0.94)"><span class="sup">r</span>112<span class="c">,</span>637</div>
<div class="n" style="left:1668.8px;top:640.20px;transform:translate(0.38px,-0.73px) scaleY(0.97)"><span class="xx">XX</span></div>
<div class="n" style="left:1808.2px;top:640.20px;transform:translate(0.40px,-0.86px) scaleY(0.94)">90<span class="c">,</span>883</div>
<div class="h" style="left:1002.0px;top:681.00px;letter-spacing:1.65px;transform:translate(0.39px,0.32px) rotate(-0.1099deg) scaleY(0.97);">NEW HAMPSHIRE</div>
<div class="row" style="left:221.0px;top:720.82px;width:745.0px;transform:translate(0.30px,2.67px) rotate(-0.1719deg) scaleY(0.97);"><span class="lab" style="padding-left:0px;letter-spacing:0px">Clays</span><span class="ld"></span><span class="lab">thousand short tons</span><span class="ld" style="flex:0 0 23.6px"></span></div>
<div class="n" style="left:886.1px;top:720.82px;transform:translate(0.53px,0.16px) scaleY(0.94)">46</div>
<div class="n" style="left:1015.5px;top:720.82px;transform:translate(0.56px,-0.06px) scaleY(0.94)">$40</div>
<div class="n" style="left:1146.2px;top:720.82px;transform:translate(0.60px,-0.16px) scaleY(0.94)">53</div>
<div class="n" style="left:1275.6px;top:720.82px;transform:translate(0.63px,-0.26px) scaleY(0.94)">$47</div>
<div class="n" style="left:1406.0px;top:720.82px;transform:translate(0.66px,-0.36px) scaleY(0.94)">51</div>
<div class="n" style="left:1535.5px;top:720.82px;transform:translate(0.70px,-0.46px) scaleY(0.94)">$51</div>
<div class="n" style="left:1665.3px;top:720.82px;transform:translate(0.73px,-0.56px) scaleY(0.94)">42</div>
<div class="n" style="left:1795.2px;top:720.82px;transform:translate(0.77px,-0.67px) scaleY(0.94)">$42</div>
<div class="row" style="left:221.0px;top:741.30px;width:745.0px;transform:translate(0.34px,2.67px) rotate(-0.1719deg) scaleY(0.97);"><span class="lab" style="padding-left:0px;letter-spacing:0px">Mica, sheet</span><span class="ld"></span><span class="lab">pounds</span><span class="ld" style="flex:0 0 23.6px"></span></div>
<div class="cd" style="left:991.4px;top:747.30px;width:94.4px;transform:translate(0.59px,0.21px)"></div>
<div class="cd" style="left:1109.0px;top:747.30px;width:106.2px;transform:translate(0.62px,-0.04px)"></div>
<div class="cd" style="left:1239.7px;top:747.30px;width:106.2px;transform:translate(0.66px,-0.13px)"></div>
<div class="cd" style="left:1369.1px;top:747.30px;width:106.2px;transform:translate(0.70px,-0.22px)"></div>
<div class="cd" style="left:1499.5px;top:747.30px;width:106.2px;transform:translate(0.74px,-0.31px)"></div>
<div class="cd" style="left:1629.0px;top:747.30px;width:106.2px;transform:translate(0.78px,-0.40px)"></div>
<div class="n" style="left:1665.3px;top:741.30px;transform:translate(0.82px,-0.50px) scaleY(0.94)">16<span class="c">,</span>000</div>
<div class="n" style="left:1795.2px;top:741.30px;transform:translate(0.86px,-0.59px) scaleY(0.97)">W</div>
<div class="row" style="left:221.0px;top:761.78px;width:745.0px;transform:translate(0.38px,2.67px) rotate(-0.1719deg) scaleY(0.97);"><span class="lab" style="padding-left:0px;letter-spacing:0px">Peat</span><span class="ld"></span><span class="lab">short tons</span><span class="ld" style="flex:0 0 23.6px"></span></div>
<div class="cd" style="left:991.4px;top:767.78px;width:94.4px;transform:translate(0.65px,0.21px)"></div>
<div class="cd" style="left:1109.0px;top:767.78px;width:106.2px;transform:translate(0.69px,-0.03px)"></div>
<div class="cd" style="left:1239.7px;top:767.78px;width:106.2px;transform:translate(0.73px,-0.11px)"></div>
<div class="cd" style="left:1369.1px;top:767.78px;width:106.2px;transform:translate(0.78px,-0.19px)"></div>
<div class="n" style="left:1406.0px;top:761.78px;transform:translate(0.83px,-0.28px) scaleY(0.94)">175</div>
<div class="n" style="left:1535.5px;top:761.78px;transform:translate(0.87px,-0.36px) scaleY(0.94)">2</div>
<div class="n" style="left:1665.3px;top:761.78px;transform:translate(0.91px,-0.44px) scaleY(0.94)">50</div>
<div class="row" style="left:221.0px;top:782.26px;width:745.0px;transform:translate(0.41px,2.67px) rotate(-0.1719deg) scaleY(0.97);"><span class="lab" style="padding-left:0px;letter-spacing:0px">Sand and gravel</span><span class="ld"></span><span class="lab">thousand short tons</span><span class="ld" style="flex:0 0 23.6px"></span></div>
<div class="n" style="left:886.1px;top:782.26px;transform:translate(0.72px,0.16px) scaleY(0.94)">8<span class="c">,</span>768</div>
<div class="n" style="left:1015.5px;top:782.26px;transform:translate(0.77px,-0.04px) scaleY(0.94)">4<span class="c">,</span>996</div>
<div class="n" style="left:1146.2px;top:782.26px;transform:translate(0.81px,-0.11px) scaleY(0.94)">10<span class="c">,</span>584</div>
<div class="n" style="left:1275.6px;top:782.26px;transform:translate(0.86px,-0.17px) scaleY(0.94)">5<span class="c">,</span>559</div>
<div class="n" style="left:1406.0px;top:782.26px;transform:translate(0.91px,-0.24px) scaleY(0.94)">7<span class="c">,</span>626</div>
<div class="n" style="left:1535.5px;top:782.26px;transform:translate(0.95px,-0.31px) scaleY(0.94)">4<span class="c">,</span>807</div>
<div class="n" style="left:1665.3px;top:782.26px;transform:translate(1.00px,-0.38px) scaleY(0.94)">8<span class="c">,</span>449</div>
<div class="n" style="left:1795.2px;top:782.26px;transform:translate(1.05px,-0.44px) scaleY(0.94)">5<span class="c">,</span>137</div>
<div class="row" style="left:221.0px;top:802.74px;width:745.0px;transform:translate(0.45px,2.67px) rotate(-0.1719deg) scaleY(0.97);"><span class="lab" style="padding-left:0px;letter-spacing:0px">Stone</span><span class="ld"></span><span class="lab">do</span><span class="ld" style="flex:0 0 47.2px"></span></div>
<div class="n" style="left:886.1px;top:802.74px;transform:translate(0.78px,0.16px) scaleY(0.94)">202</div>
<div class="n" style="left:1015.5px;top:802.74px;transform:translate(0.83px,-0.03px) scaleY(0.94)">2<span class="c">,</span>138</div>
<div class="n" style="left:1146.2px;top:802.74px;transform:translate(0.88px,-0.09px) scaleY(0.94)">153</div>
<div class="n" style="left:1275.6px;top:802.74px;transform:translate(0.94px,-0.15px) scaleY(0.94)">1<span class="c">,</span>932</div>
<div class="n" style="left:1406.0px;top:802.74px;transform:translate(0.99px,-0.20px) scaleY(0.94)">206</div>
<div class="n" style="left:1535.5px;top:802.74px;transform:translate(1.04px,-0.26px) scaleY(0.94)">2<span class="c">,</span>091</div>
<div class="n" style="left:1665.3px;top:802.74px;transform:translate(1.09px,-0.31px) scaleY(0.94)">473</div>
<div class="n" style="left:1795.2px;top:802.74px;transform:translate(1.14px,-0.37px) scaleY(0.94)">2<span class="c">,</span>887</div>
<div class="t" style="left:1931.0px;top:761.78px;transform:translate(0.94px,-0.50px) scaleY(0.97);">(<span class="sup5">5</span>)</div>
<div class="row" style="left:221.0px;top:823.22px;width:745.0px;transform:translate(0.49px,2.67px) rotate(-0.1719deg) scaleY(0.97);"><span class="lab" style="padding-left:0px">Value of items that cannot be disclosed: Other nonmetals</span><span class="ld"></span></div>
<div class="n" style="left:886.1px;top:823.22px;transform:translate(0.85px,0.16px) scaleY(0.97)"><span class="xx">XX</span></div>
<div class="n" style="left:1015.5px;top:823.22px;transform:translate(0.90px,-0.03px) scaleY(0.94)">128</div>
<div class="n" style="left:1146.2px;top:823.22px;transform:translate(0.96px,-0.07px) scaleY(0.97)"><span class="xx">XX</span></div>
<div class="n" style="left:1275.6px;top:823.22px;transform:translate(1.01px,-0.12px) scaleY(0.94)">127</div>
<div class="n" style="left:1406.0px;top:823.22px;transform:translate(1.07px,-0.16px) scaleY(0.97)"><span class="xx">XX</span></div>
<div class="n" style="left:1535.5px;top:823.22px;transform:translate(1.12px,-0.21px) scaleY(0.94)">49</div>
<div class="n" style="left:1665.3px;top:823.22px;transform:translate(1.18px,-0.25px) scaleY(0.97)"><span class="xx">XX</span></div>
<div class="n" style="left:1795.2px;top:823.22px;transform:translate(1.23px,-0.30px) scaleY(0.94)">51</div>
<div class="row" style="left:221.0px;top:863.80px;width:745.0px;transform:translate(0.56px,2.67px) rotate(-0.1719deg) scaleY(0.97);"><span class="lab" style="padding-left:73px">Total</span><span class="ld"></span></div>
<div class="n" style="left:887.1px;top:863.80px;transform:translate(0.97px,0.16px) scaleY(0.97)"><span class="xx">XX</span></div>
<div class="n" style="left:1016.5px;top:863.80px;transform:translate(1.04px,-0.01px) scaleY(0.94)">7<span class="c">,</span>302</div>
<div class="n" style="left:1146.7px;top:863.80px;transform:translate(1.10px,-0.04px) scaleY(0.97)"><span class="xx">XX</span></div>
<div class="n" style="left:1276.1px;top:863.80px;transform:translate(1.16px,-0.06px) scaleY(0.94)">7<span class="c">,</span>665</div>
<div class="n" style="left:1406.5px;top:863.80px;transform:translate(1.23px,-0.08px) scaleY(0.97)"><span class="xx">XX</span></div>
<div class="n" style="left:1536.5px;top:863.80px;transform:translate(1.29px,-0.11px) scaleY(0.94)">7<span class="c">,</span>000</div>
<div class="n" style="left:1666.3px;top:863.80px;transform:translate(1.36px,-0.13px) scaleY(0.97)"><span class="xx">XX</span></div>
<div class="n" style="left:1796.2px;top:863.80px;transform:translate(1.42px,-0.15px) scaleY(0.94)">8<span class="c">,</span>117</div>
<div class="h" style="left:1033.0px;top:904.30px;letter-spacing:1.65px;transform:translate(1.09px,0.23px) rotate(-0.0836deg) scaleY(0.97);">NEW JERSEY</div>
<div class="row" style="left:221.0px;top:944.42px;width:745.0px;transform:translate(0.71px,2.67px) rotate(-0.1719deg) scaleY(0.97);"><span class="lab" style="padding-left:0px;letter-spacing:0px">Clays</span><span class="ld"></span><span class="lab">thousand short tons</span><span class="ld" style="flex:0 0 23.6px"></span></div>
<div class="n" style="left:886.1px;top:944.42px;transform:translate(1.22px,0.16px) scaleY(0.94)">500</div>
<div class="n" style="left:1015.5px;top:944.42px;transform:translate(1.30px,-0.01px) scaleY(0.94)">$1<span class="c">,</span>441</div>
<div class="n" style="left:1146.2px;top:944.42px;transform:translate(1.38px,-0.02px) scaleY(0.94)">506</div>
<div class="n" style="left:1275.6px;top:944.42px;transform:translate(1.46px,-0.03px) scaleY(0.94)">$1<span class="c">,</span>388</div>
<div class="n" style="left:1406.0px;top:944.42px;transform:translate(1.55px,-0.04px) scaleY(0.94)">488</div>
<div class="n" style="left:1535.5px;top:944.42px;transform:translate(1.63px,-0.05px) scaleY(0.94)">$1<span class="c">,</span>319</div>
<div class="n" style="left:1665.3px;top:944.42px;transform:translate(1.71px,-0.06px) scaleY(0.94)">437</div>
<div class="n" style="left:1795.2px;top:944.42px;transform:translate(1.79px,-0.07px) scaleY(0.94)">$1<span class="c">,</span>189</div>
<div class="row" style="left:221.0px;top:964.82px;width:745.0px;transform:translate(0.74px,2.67px) rotate(-0.1719deg) scaleY(0.97);"><span class="lab" style="padding-left:0px">Gem stones</span><span class="ld"></span></div>
<div class="n" style="left:886.1px;top:964.82px;transform:translate(1.29px,0.16px) scaleY(0.97)">NA</div>
<div class="n" style="left:1015.5px;top:964.82px;transform:translate(1.37px,-0.01px) scaleY(0.94)">10</div>
<div class="n" style="left:1146.2px;top:964.82px;transform:translate(1.46px,-0.02px) scaleY(0.97)">NA</div>
<div class="n" style="left:1275.6px;top:964.82px;transform:translate(1.54px,-0.03px) scaleY(0.94)">10</div>
<div class="n" style="left:1406.0px;top:964.82px;transform:translate(1.63px,-0.04px) scaleY(0.97)">NA</div>
<div class="n" style="left:1535.5px;top:964.82px;transform:translate(1.71px,-0.05px) scaleY(0.94)">10</div>
<div class="n" style="left:1665.3px;top:964.82px;transform:translate(1.79px,-0.06px) scaleY(0.97)">NA</div>
<div class="n" style="left:1795.2px;top:964.82px;transform:translate(1.88px,-0.07px) scaleY(0.94)">10</div>
<div class="row" style="left:221.0px;top:985.22px;width:745.0px;transform:translate(0.78px,2.67px) rotate(-0.1719deg) scaleY(0.97);"><span class="lab" style="padding-left:0px;letter-spacing:0px">Peat</span><span class="ld"></span><span class="lab">short tons</span><span class="ld" style="flex:0 0 23.6px"></span></div>
<div class="n" style="left:886.1px;top:985.22px;transform:translate(1.35px,0.16px) scaleY(0.97)">W</div>
<div class="n" style="left:1015.5px;top:985.22px;transform:translate(1.44px,-0.01px) scaleY(0.97)">W</div>
<div class="n" style="left:1146.2px;top:985.22px;transform:translate(1.53px,-0.02px) scaleY(0.94)">40<span class="c">,</span>480</div>
<div class="n" style="left:1275.6px;top:985.22px;transform:translate(1.62px,-0.03px) scaleY(0.94)">431</div>
<div class="n" style="left:1406.0px;top:985.22px;transform:translate(1.71px,-0.03px) scaleY(0.94)">36<span class="c">,</span>312</div>
<div class="n" style="left:1535.5px;top:985.22px;transform:translate(1.79px,-0.04px) scaleY(0.94)">489</div>
<div class="n" style="left:1665.3px;top:985.22px;transform:translate(1.88px,-0.05px) scaleY(0.94)">43<span class="c">,</span>045</div>
<div class="n" style="left:1795.2px;top:985.22px;transform:translate(1.97px,-0.06px) scaleY(0.94)">542</div>
<div class="row" style="left:221.0px;top:1005.62px;width:745.0px;transform:translate(0.82px,2.67px) rotate(-0.1719deg) scaleY(0.97);"><span class="lab" style="padding-left:0px;letter-spacing:0px">Sand and gravel</span><span class="ld"></span><span class="lab">thousand short tons</span><span class="ld" style="flex:0 0 23.6px"></span></div>
<div class="n" style="left:886.1px;top:1005.62px;transform:translate(1.41px,0.16px) scaleY(0.94)">17<span class="c">,</span>661</div>
<div class="n" style="left:1015.5px;top:1005.62px;transform:translate(1.51px,-0.01px) scaleY(0.94)">27<span class="c">,</span>079</div>
<div class="n" style="left:1146.2px;top:1005.62px;transform:translate(1.60px,-0.01px) scaleY(0.94)">17<span class="c">,</span>389</div>
<div class="n" style="left:1275.6px;top:1005.62px;transform:translate(1.69px,-0.02px) scaleY(0.94)">28<span class="c">,</span>646</div>
<div class="n" style="left:1406.0px;top:1005.62px;transform:translate(1.79px,-0.03px) scaleY(0.94)">17<span class="c">,</span>782</div>
<div class="n" style="left:1535.5px;top:1005.62px;transform:translate(1.88px,-0.04px) scaleY(0.94)">29<span class="c">,</span>322</div>
<div class="n" style="left:1665.3px;top:1005.62px;transform:translate(1.97px,-0.05px) scaleY(0.94)">18<span class="c">,</span>626</div>
<div class="n" style="left:1795.2px;top:1005.62px;transform:translate(2.07px,-0.06px) scaleY(0.94)">29<span class="c">,</span>975</div>
<div class="row" style="left:221.0px;top:1026.02px;width:745.0px;transform:translate(0.85px,2.67px) rotate(-0.1719deg) scaleY(0.97);"><span class="lab" style="padding-left:0px;letter-spacing:0px">Stone</span><span class="ld"></span><span class="lab">do</span><span class="ld" style="flex:0 0 47.2px"></span></div>
<div class="n" style="left:886.1px;top:1026.02px;transform:translate(1.48px,0.16px) scaleY(0.94)">12<span class="c">,</span>326</div>
<div class="n" style="left:1015.5px;top:1026.02px;transform:translate(1.57px,-0.00px) scaleY(0.94)">28<span class="c">,</span>461</div>
<div class="n" style="left:1146.2px;top:1026.02px;transform:translate(1.67px,-0.01px) scaleY(0.94)">12<span class="c">,</span>232</div>
<div class="n" style="left:1275.6px;top:1026.02px;transform:translate(1.77px,-0.02px) scaleY(0.94)">27<span class="c">,</span>247</div>
<div class="n" style="left:1406.0px;top:1026.02px;transform:translate(1.87px,-0.03px) scaleY(0.94)">12<span class="c">,</span>453</div>
<div class="n" style="left:1535.5px;top:1026.02px;transform:translate(1.96px,-0.04px) scaleY(0.94)">28<span class="c">,</span>056</div>
<div class="n" style="left:1665.3px;top:1026.02px;transform:translate(2.06px,-0.05px) scaleY(0.94)">12<span class="c">,</span>611</div>
<div class="n" style="left:1795.2px;top:1026.02px;transform:translate(2.16px,-0.06px) scaleY(0.94)">28<span class="c">,</span>253</div>
<div class="row" style="left:221.0px;top:1046.42px;width:745.0px;transform:translate(0.89px,2.67px) rotate(-0.1719deg) scaleY(0.97);"><span class="lab" style="padding-left:0px;letter-spacing:0.1px">Zinc (recoverable content of ores, etc.)<span class="sup9">9</span></span><span class="ld"></span><span class="lab">short tons</span><span class="ld" style="flex:0 0 23.6px"></span></div>
<div class="n" style="left:886.1px;top:1046.42px;transform:translate(1.54px,0.16px) scaleY(0.94)">32<span class="c">,</span>926</div>
<div class="n" style="left:1015.5px;top:1046.42px;transform:translate(1.64px,-0.00px) scaleY(0.94)">8<span class="c">,</span>935</div>
<div class="n" style="left:1146.2px;top:1046.42px;transform:translate(1.74px,-0.01px) scaleY(0.94)">38<span class="c">,</span>297</div>
<div class="n" style="left:1275.6px;top:1046.42px;transform:translate(1.85px,-0.02px) scaleY(0.94)">11<span class="c">,</span>106</div>
<div class="n" style="left:1406.0px;top:1046.42px;transform:translate(1.95px,-0.03px) scaleY(0.94)">25<span class="c">,</span>237</div>
<div class="n" style="left:1535.5px;top:1046.42px;transform:translate(2.05px,-0.04px) scaleY(0.94)">7<span class="c">,</span>319</div>
<div class="n" style="left:1665.3px;top:1046.42px;transform:translate(2.15px,-0.04px) scaleY(0.94)">26<span class="c">,</span>041</div>
<div class="n" style="left:1795.2px;top:1046.42px;transform:translate(2.25px,-0.05px) scaleY(0.94)">7<span class="c">,</span>031</div>
<div class="t" style="left:221.0px;top:1066.82px;width:745.0px;text-align:justify;text-align-last:justify;transform:translate(0.93px,2.67px) rotate(-0.1719deg) scaleY(0.97);">Value of items that cannot be disclosed: Iron ore, lime, magnesium</div>
<div class="t" style="left:246.0px;top:1087.22px;width:720.0px;text-align:justify;text-align-last:justify;transform:translate(0.98px,2.59px) rotate(-0.1719deg) scaleY(0.97);">compounds, manganiferous residuum, greensand marl, titanium</div>
<div class="row heavy" style="left:221.0px;top:1107.62px;width:745.0px;transform:translate(1.00px,2.67px) rotate(-0.1719deg) scaleY(0.97);"><span class="lab" style="padding-left:25px">concentrate, and values indicated by symbol W</span><span class="ld"></span></div>
<div class="n hv" style="left:886.1px;top:1107.62px;transform:translate(1.73px,0.16px) scaleY(0.97)"><span class="xx">XX</span></div>
<div class="n hv" style="left:1015.5px;top:1107.62px;transform:translate(1.85px,-0.00px) scaleY(0.94)">12<span class="c">,</span>246</div>
<div class="n hv" style="left:1146.2px;top:1107.62px;transform:translate(1.96px,-0.01px) scaleY(0.97)"><span class="xx">XX</span></div>
<div class="n hv" style="left:1275.6px;top:1107.62px;transform:translate(2.07px,-0.02px) scaleY(0.94)">11<span class="c">,</span>380</div>
<div class="n hv" style="left:1406.0px;top:1107.62px;transform:translate(2.19px,-0.02px) scaleY(0.97)"><span class="xx">XX</span></div>
<div class="n hv" style="left:1535.5px;top:1107.62px;transform:translate(2.30px,-0.03px) scaleY(0.94)">9<span class="c">,</span>080</div>
<div class="n hv" style="left:1665.3px;top:1107.62px;transform:translate(2.42px,-0.03px) scaleY(0.97)"><span class="xx">XX</span></div>
<div class="n hv" style="left:1795.2px;top:1107.62px;transform:translate(2.53px,-0.04px) scaleY(0.94)">5<span class="c">,</span>747</div>
<div class="row heavy" style="left:221.0px;top:1150.40px;width:745.0px;transform:translate(1.08px,2.67px) rotate(-0.1719deg) scaleY(0.97);"><span class="lab" style="padding-left:73px">Total</span><span class="ld"></span></div>
<div class="n hv" style="left:887.1px;top:1150.40px;transform:translate(1.87px,0.16px) scaleY(0.97)"><span class="xx">XX</span></div>
<div class="n hv" style="left:1016.5px;top:1150.40px;transform:translate(1.99px,-0.00px) scaleY(0.94)">78<span class="c">,</span>172</div>
<div class="n hv" style="left:1147.2px;top:1150.40px;transform:translate(2.11px,-0.01px) scaleY(0.97)"><span class="xx">XX</span></div>
<div class="n hv" style="left:1276.6px;top:1150.40px;transform:translate(2.23px,-0.01px) scaleY(0.94)">80<span class="c">,</span>158</div>
<div class="n hv" style="left:1407.0px;top:1150.40px;transform:translate(2.36px,-0.02px) scaleY(0.97)"><span class="xx">XX</span></div>
<div class="n hv" style="left:1536.5px;top:1150.40px;transform:translate(2.48px,-0.02px) scaleY(0.94)">75<span class="c">,</span>595</div>
<div class="n hv" style="left:1666.8px;top:1150.40px;transform:translate(2.60px,-0.03px) scaleY(0.97)"><span class="xx">XX</span></div>
<div class="n hv" style="left:1797.8px;top:1150.40px;transform:translate(2.73px,-0.03px) scaleY(0.94)">72<span class="c">,</span>747</div>
<div class="fn" style="left:246.5px;top:1193.20px;transform:translate(1.18px,2.59px) rotate(-0.1719deg) scaleY(0.97);">See footnotes at end of table.</div>

<div class="vt" style="left:2058.5px;top:518px;transform:rotate(90deg);letter-spacing:0.45px;font-size:24.4px"><div style="position:absolute;left:0;top:-8px;line-height:0;">STATISTICAL SUMMARY</div></div>
<div class="vt" style="left:2057.4px;top:1180px;transform:rotate(90deg);font-size:38px;letter-spacing:3.8px"><div style="position:absolute;left:0;top:-12.5px;line-height:0;">119</div></div>
<div class="r" style="left:1014.5px;top:114px;width:6px;height:6.5px;border-radius:0 0 3px 3px;transform:skewX(-20deg)"></div>
<div class="r" style="left:2030px;top:603px;width:3px;height:3px;border-radius:50%"></div>
<div class="r" style="left:897px;top:144.5px;width:3px;height:3px;border-radius:50%"></div>
<div class="r" style="left:494.5px;top:916.5px;width:2.5px;height:2.5px;border-radius:50%"></div>

</div></body></html>
